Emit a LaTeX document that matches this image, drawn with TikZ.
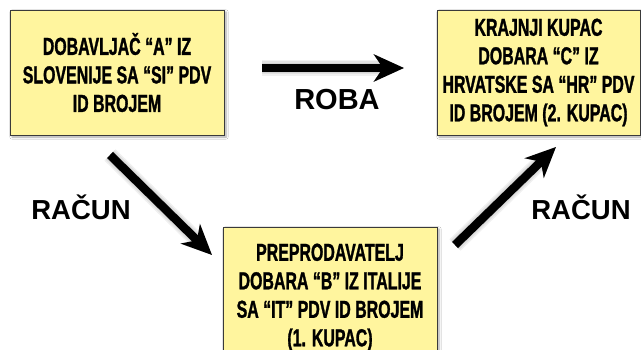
\documentclass[tikz,border=0pt]{standalone}
\usepackage{fontspec}
\setmainfont{Liberation Sans}
\newfontfamily\boxfont{Liberation Sans}[FakeStretch=0.65, FakeBold=1.2]
\usetikzlibrary{arrows.meta,shadows.blur}

\definecolor{boxfill}{HTML}{FFF59E}
\definecolor{boxline}{HTML}{3A3A3A}

\tikzset{
  party/.style={draw=boxline, line width=0.9pt, fill=boxfill,
    inner sep=0pt, align=center,
    font=\boxfont\bfseries\fontsize{24.5}{28.5}\selectfont,
    blur shadow={shadow xshift=2pt, shadow yshift=-2pt,
      shadow blur steps=6, shadow opacity=35}},
  flow/.style={line width=8.5pt, black,
    -{Stealth[length=30pt, width=27pt, inset=9pt]}},
  flowhalo/.style={line width=#1, black, opacity=0.06, shift={(2.5,3.5)},
    -{Stealth[length=30pt, width=27pt, inset=9pt]}},
  flowlabel/.style={font=\bfseries\fontsize{27.5}{30}\selectfont, inner sep=0pt}
}

\begin{document}
\begin{tikzpicture}[x=1pt, y=-1pt]
  \useasboundingbox[fill=white] (0,0) rectangle (641,350);

  % the three parties
  \node[party, minimum width=214pt, minimum height=125pt]
    (supplier) at (117,72.5)
    {DOBAVLJAČ “A” IZ\\SLOVENIJE SA “SI” PDV\\ID BROJEM};
  \node[party, minimum width=203pt, minimum height=125pt]
    (buyer) at (538.5,72.5)
    {KRAJNJI KUPAC\\DOBARA “C” IZ\\HRVATSKE SA “HR” PDV\\ID BROJEM (2. KUPAC)};
  \node[party, minimum width=214pt, minimum height=141pt]
    (reseller) at (330,297.5)
    {PREPRODAVATELJ\\DOBARA “B” IZ ITALIJE\\SA “IT” PDV ID BROJEM\\(1. KUPAC)};

  % arrow end points
  \coordinate (goodsA) at (262,68);
  \coordinate (goodsB) at (404,68);
  \coordinate (billA1) at (110,155);
  \coordinate (billA2) at (212,255);
  \coordinate (billB1) at (455,245);
  \coordinate (billB2) at (556,147);

  % soft shadows under the arrows
  \foreach \w in {10pt,13pt,16pt} {
    \draw[flowhalo=\w] (goodsA) -- (goodsB);
    \draw[flowhalo=\w] (billA1) -- (billA2);
    \draw[flowhalo=\w] (billB1) -- (billB2);
  }

  \draw[flow] (goodsA) -- (goodsB);
  \draw[flow] (billA1) -- (billA2);
  \draw[flow] (billB1) -- (billB2);

  % flow labels
  \node[flowlabel, font=\bfseries\fontsize{29}{30}\selectfont]
    (goods) at (337,100) {ROBA};
  \node[flowlabel] (billin) at (81,207) {RAČUN};
  \node[flowlabel] (billout) at (581,207) {RAČUN};
\end{tikzpicture}
\end{document}
